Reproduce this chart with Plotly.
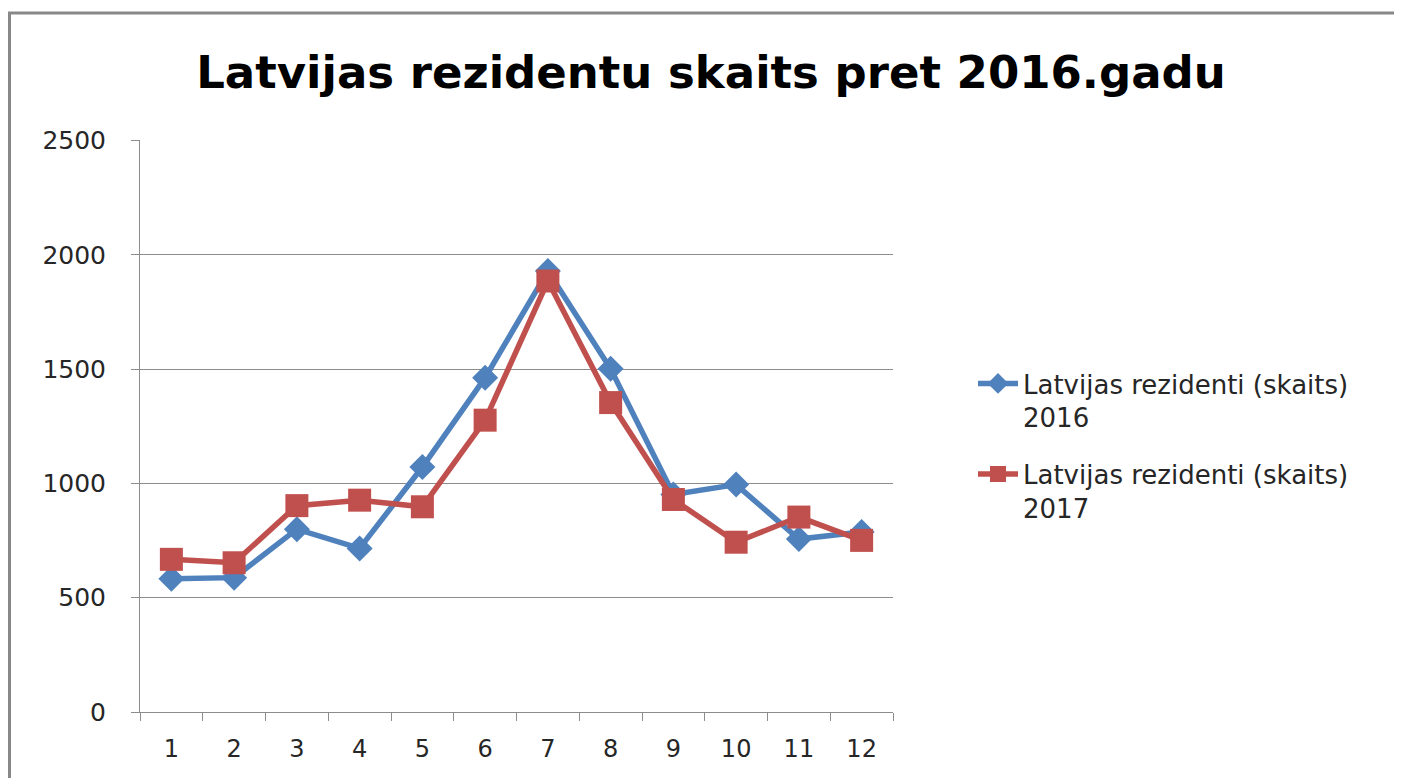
import plotly.graph_objects as go

months = ["1", "2", "3", "4", "5", "6", "7", "8", "9", "10", "11", "12"]
res_2016 = [583, 588, 800, 716, 1072, 1463, 1930, 1502, 952, 995, 757, 788]
res_2017 = [668, 653, 903, 927, 898, 1277, 1886, 1354, 930, 743, 853, 751]
name_2016 = "Latvijas rezidenti (skaits)<br>2016"
name_2017 = "Latvijas rezidenti (skaits)<br>2017"
title_text = "Latvijas rezidentu skaits pret 2016.gadu"
y_ticks = [0, 500, 1000, 1500, 2000, 2500]

# page has an 8px body margin; figure sized to fit the viewport
OFF = 8
W, H = 1394, 770
L, R, T, B = 132, 509, 132, 66
pw, ph = W - L - R, H - T - B

BLUE = "#4F81BD"
RED = "#C0504D"
GRID = "#8c8c8c"
FONT = "DejaVu Sans"

fig = go.Figure()
fig.add_trace(go.Scatter(
    x=months, y=res_2016, name=name_2016, mode="lines+markers",
    line=dict(color=BLUE, width=5.5),
    marker=dict(symbol="diamond", size=20, color=BLUE),
    legendgroup="a",
))
fig.add_trace(go.Scatter(
    x=months, y=res_2017, name=name_2017, mode="lines+markers",
    line=dict(color=RED, width=5.5),
    marker=dict(symbol="square", size=23, color=RED),
    legendgroup="b",
))

# convert page pixel positions to paper coordinates
def px_x(p):
    return (p - OFF - L) / pw

def px_y(p):
    return (OFF + H - B - p) / ph

fig.update_layout(
    width=W, height=H,
    margin=dict(l=L, r=R, t=T, b=B),
    paper_bgcolor="white", plot_bgcolor="white",
    font=dict(family=FONT, size=24, color="#262626"),
    title=dict(
        text=f"<b>{title_text}</b>", x=(711 - OFF) / W, xanchor="center",
        y=1 - (72 - OFF) / H, yanchor="middle", yref="container",
        font=dict(family=FONT, size=45, color="black"),
    ),
    showlegend=True,
    legend=dict(
        x=px_x(973), y=px_y(360), xanchor="left", yanchor="top",
        xref="paper", yref="paper",
        font=dict(family=FONT, size=26, color="#262626"),
        valign="top", traceorder="grouped", tracegroupgap=20,
        bgcolor="rgba(0,0,0,0)", itemwidth=40,
    ),
    xaxis=dict(
        type="category", tickson="boundaries", range=[-0.5, 11.5],
        showline=True, linecolor=GRID, linewidth=1,
        ticks="outside", ticklen=8, tickcolor=GRID,
        showgrid=False, zeroline=False,
        tickfont=dict(family=FONT, size=24, color="#262626"),
        ticklabelstandoff=15,
    ),
    yaxis=dict(
        range=[0, 2503], tickvals=y_ticks,
        showline=True, linecolor=GRID, linewidth=1,
        ticks="outside", ticklen=8, tickcolor=GRID,
        showgrid=True, gridcolor=GRID, gridwidth=1,
        zeroline=False,
        tickfont=dict(family=FONT, size=25, color="#262626"),
        ticklabelstandoff=20,
    ),
    shapes=[dict(
        type="rect", xref="paper", yref="paper",
        x0=px_x(OFF + 1.5), x1=px_x(1430), y0=px_y(800), y1=px_y(13),
        line=dict(color="#888888", width=3), fillcolor="rgba(0,0,0,0)",
        layer="below",
    )],
)

fig.write_html("out.html")
